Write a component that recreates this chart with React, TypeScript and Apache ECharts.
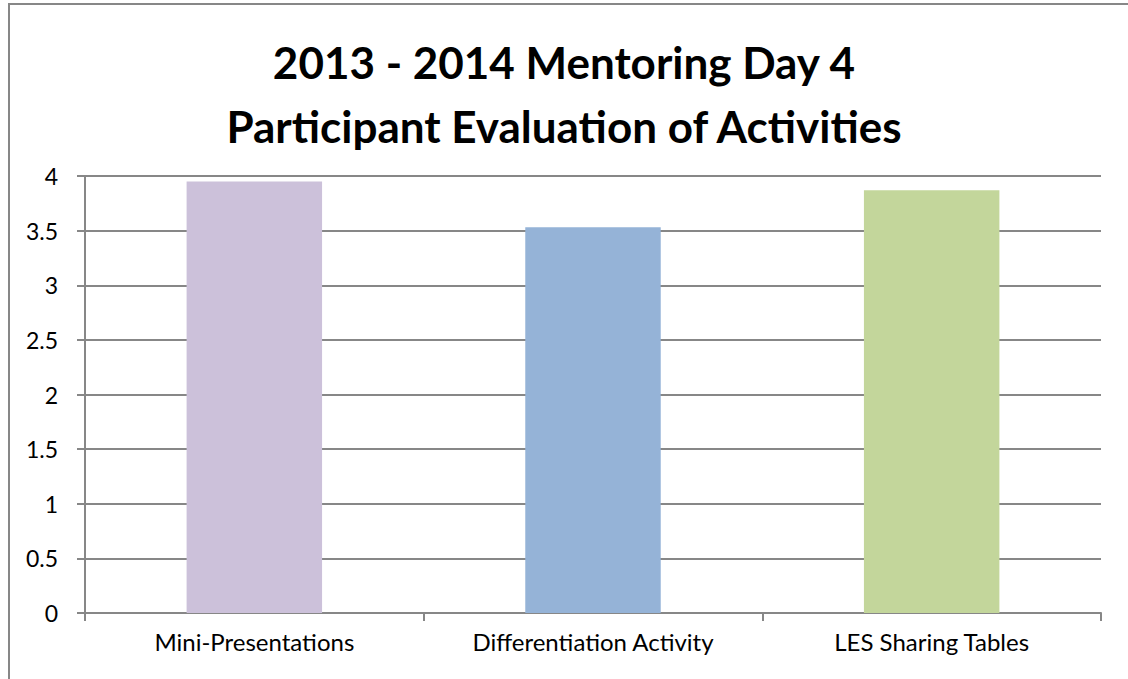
import React, { useEffect, useRef } from "react";
import * as echarts from "echarts";

const titleLines = ["2013 - 2014 Mentoring Day 4", "Participant Evaluation of Activities"];
const categories = ["Mini-Presentations", "Differentiation Activity", "LES Sharing Tables"];
const scores = [3.95, 3.53, 3.87];
const barColors = ["#CCC1DA", "#95B3D7", "#C3D69B"];
const yMin = 0;
const yMax = 4;
const yStep = 0.5;

const FONT = "Lato, 'Open Sans', sans-serif";

export default function App() {
  const ref = useRef<HTMLDivElement>(null);
  useEffect(() => {
    if (!ref.current) return;
    const chart = echarts.init(ref.current, undefined, { renderer: "svg" });
    chart.setOption({
      animation: false,
      backgroundColor: "#ffffff",
      title: {
        text: titleLines.join("\n"),
        left: "center",
        top: 25,
        textStyle: {
          fontFamily: FONT,
          fontWeight: "bold",
          fontSize: 44,
          lineHeight: 64,
          color: "#000000",
        },
      },
      graphic: [
        {
          type: "rect",
          shape: { x: 9, y: 4, width: 1300, height: 900 },
          style: { fill: "none", stroke: "#878787", lineWidth: 2 },
          silent: true,
        },
      ],
      grid: { left: 85, right: 27, top: 176, bottom: 66, containLabel: false },
      xAxis: {
        type: "category",
        data: categories,
        boundaryGap: true,
        axisLine: { show: true, lineStyle: { color: "#878787", width: 2 } },
        axisTick: { show: true, length: 8, alignWithLabel: false, lineStyle: { color: "#878787", width: 2 } },
        axisLabel: { fontFamily: FONT, fontSize: 24, color: "#000000", margin: 16 },
        splitLine: { show: false },
      },
      yAxis: {
        type: "value",
        min: yMin,
        max: yMax,
        interval: yStep,
        axisLine: { show: true, lineStyle: { color: "#878787", width: 2 } },
        axisTick: { show: true, length: 8, lineStyle: { color: "#878787", width: 2 } },
        axisLabel: { fontFamily: FONT, fontSize: 23, color: "#000000", margin: 27 },
        splitLine: { show: true, lineStyle: { color: "#878787", width: 2 } },
      },
      series: [
        {
          type: "bar",
          data: scores.map((v, i) => ({ value: v, itemStyle: { color: barColors[i] } })),
          barWidth: "40%",
        },
      ],
    });
    return () => chart.dispose();
  }, []);
  return (
    <div
      ref={ref}
      style={{ position: "absolute", left: 0, top: 0, width: 1128, height: 679 }}
    />
  );
}
